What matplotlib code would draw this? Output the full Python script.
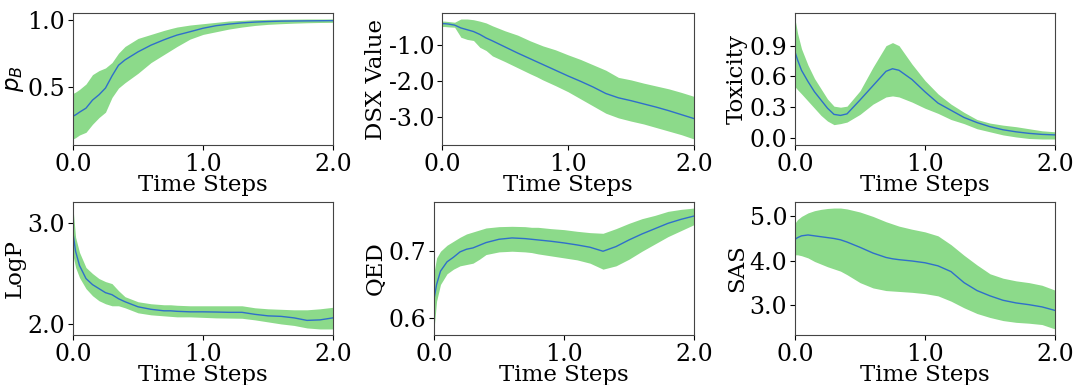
import numpy as np
import matplotlib
matplotlib.use("Agg")
import matplotlib.pyplot as plt

plt.rcParams['font.family'] = 'DejaVu Serif'
plt.rcParams['mathtext.fontset'] = 'dejavusans'
plt.rcParams['axes.unicode_minus'] = False

t = [0, 0.02, 0.05, 0.1, 0.15, 0.2, 0.25, 0.3, 0.35, 0.4, 0.5, 0.6, 0.7, 0.75,
     0.8, 0.9, 1.0, 1.1, 1.2, 1.3, 1.4, 1.5, 1.6, 1.7, 1.8, 1.9, 2.0]

# p_B
pb_mean = [0.28, 0.29, 0.31, 0.34, 0.40, 0.44, 0.49, 0.58, 0.66, 0.70, 0.76, 0.81, 0.85, 0.868,
           0.885, 0.91, 0.936, 0.955, 0.967, 0.976, 0.982, 0.986, 0.989, 0.99, 0.991, 0.992, 0.993]
pb_lo = [0.11, 0.12, 0.14, 0.16, 0.22, 0.27, 0.31, 0.42, 0.49, 0.53, 0.60, 0.68, 0.74, 0.77,
         0.80, 0.855, 0.89, 0.91, 0.93, 0.945, 0.957, 0.965, 0.97, 0.974, 0.977, 0.979, 0.98]
pb_hi = [0.45, 0.46, 0.48, 0.52, 0.59, 0.62, 0.64, 0.68, 0.75, 0.80, 0.86, 0.89, 0.92, 0.933,
         0.945, 0.96, 0.97, 0.98, 0.99, 0.995, 1.0, 1.002, 1.003, 1.004, 1.005, 1.005, 1.005]

# DSX
dsx_mean = [-0.40, -0.40, -0.41, -0.44, -0.52, -0.57, -0.62, -0.70, -0.80, -0.88, -1.05, -1.22, -1.38, -1.46,
            -1.54, -1.70, -1.86, -2.01, -2.17, -2.35, -2.47, -2.55, -2.64, -2.73, -2.83, -2.94, -3.05]
dsx_lo = [-0.48, -0.48, -0.49, -0.50, -0.78, -0.84, -0.87, -1.06, -1.15, -1.30, -1.46, -1.63, -1.80, -1.88,
          -1.97, -2.13, -2.30, -2.50, -2.70, -2.90, -3.03, -3.12, -3.20, -3.30, -3.40, -3.50, -3.62]
dsx_hi = [-0.33, -0.33, -0.34, -0.36, -0.27, -0.27, -0.29, -0.33, -0.38, -0.46, -0.60, -0.72, -0.88, -0.95,
          -1.02, -1.13, -1.27, -1.40, -1.55, -1.70, -1.90, -1.97, -2.06, -2.14, -2.22, -2.32, -2.43]

# Toxicity
tox_mean = [0.84, 0.76, 0.66, 0.55, 0.45, 0.37, 0.29, 0.23, 0.22, 0.235, 0.37, 0.51, 0.65, 0.675,
            0.66, 0.57, 0.45, 0.34, 0.27, 0.20, 0.15, 0.11, 0.08, 0.06, 0.045, 0.035, 0.03]
tox_lo = [0.50, 0.47, 0.43, 0.36, 0.29, 0.22, 0.165, 0.13, 0.14, 0.155, 0.23, 0.33, 0.40, 0.41,
          0.40, 0.35, 0.29, 0.24, 0.18, 0.14, 0.09, 0.06, 0.03, 0.01, -0.005, -0.01, -0.01]
tox_hi = [1.16, 1.02, 0.87, 0.71, 0.58, 0.48, 0.38, 0.31, 0.30, 0.31, 0.46, 0.69, 0.90, 0.93,
          0.90, 0.72, 0.56, 0.43, 0.33, 0.25, 0.18, 0.145, 0.125, 0.11, 0.09, 0.07, 0.06]

# LogP
logp_mean = [2.90, 2.72, 2.58, 2.45, 2.39, 2.35, 2.31, 2.29, 2.25, 2.22, 2.17, 2.145, 2.13, 2.13,
             2.125, 2.12, 2.12, 2.118, 2.115, 2.115, 2.095, 2.08, 2.075, 2.06, 2.035, 2.04, 2.06]
logp_lo = [2.68, 2.56, 2.46, 2.35, 2.28, 2.23, 2.20, 2.18, 2.18, 2.16, 2.11, 2.09, 2.08, 2.075,
           2.07, 2.07, 2.065, 2.06, 2.058, 2.056, 2.04, 2.02, 2.00, 1.985, 1.96, 1.95, 1.95]
logp_hi = [3.15, 2.86, 2.71, 2.56, 2.50, 2.45, 2.42, 2.40, 2.33, 2.27, 2.22, 2.20, 2.19, 2.19,
           2.185, 2.18, 2.18, 2.18, 2.18, 2.18, 2.16, 2.15, 2.145, 2.14, 2.14, 2.15, 2.165]

# QED
qed_mean = [0.628, 0.650, 0.670, 0.684, 0.691, 0.699, 0.703, 0.705, 0.709, 0.713, 0.718, 0.720, 0.719, 0.718,
            0.717, 0.715, 0.7125, 0.7095, 0.706, 0.700, 0.707, 0.717, 0.726, 0.734, 0.742, 0.748, 0.753]
qed_lo = [0.583, 0.625, 0.650, 0.666, 0.673, 0.678, 0.680, 0.682, 0.688, 0.695, 0.699, 0.700, 0.699, 0.698,
          0.696, 0.693, 0.690, 0.687, 0.682, 0.673, 0.678, 0.688, 0.700, 0.711, 0.722, 0.731, 0.740]
qed_hi = [0.668, 0.690, 0.700, 0.709, 0.715, 0.721, 0.726, 0.729, 0.732, 0.735, 0.737, 0.7375, 0.737, 0.736,
          0.736, 0.734, 0.7325, 0.730, 0.728, 0.727, 0.734, 0.742, 0.749, 0.754, 0.760, 0.763, 0.765]

# SAS
sas_mean = [4.48, 4.52, 4.56, 4.58, 4.56, 4.54, 4.52, 4.50, 4.47, 4.42, 4.30, 4.17, 4.07, 4.04,
            4.02, 3.99, 3.95, 3.88, 3.75, 3.50, 3.32, 3.20, 3.10, 3.04, 3.00, 2.95, 2.87]
sas_lo = [4.13, 4.13, 4.11, 4.06, 3.98, 3.92, 3.86, 3.81, 3.76, 3.68, 3.50, 3.38, 3.32, 3.31,
          3.30, 3.28, 3.25, 3.20, 3.08, 2.93, 2.80, 2.71, 2.64, 2.60, 2.58, 2.55, 2.45]
sas_hi = [4.85, 4.93, 5.00, 5.08, 5.13, 5.16, 5.18, 5.19, 5.19, 5.17, 5.10, 5.00, 4.88, 4.83,
          4.78, 4.71, 4.65, 4.56, 4.36, 4.12, 3.90, 3.70, 3.60, 3.54, 3.50, 3.44, 3.33]

panels = [
    (r'$p_B$', pb_mean, pb_lo, pb_hi, [0.5, 1.0]),
    ('DSX Value', dsx_mean, dsx_lo, dsx_hi, [-1.0, -2.0, -3.0]),
    ('Toxicity', tox_mean, tox_lo, tox_hi, [0.0, 0.3, 0.6, 0.9]),
    ('LogP', logp_mean, logp_lo, logp_hi, [2.0, 3.0]),
    ('QED', qed_mean, qed_lo, qed_hi, [0.6, 0.7]),
    ('SAS', sas_mean, sas_lo, sas_hi, [3.0, 4.0, 5.0]),
]

# axes rectangles in pixels: left, right, top, bottom
boxes = [(73, 333, 13, 145), (442, 694, 13, 145), (795, 1055, 13, 145),
         (73, 333, 202, 335), (434, 694, 202, 335), (795, 1055, 202, 335)]

W, H = 1075, 385
fig = plt.figure(figsize=(W / 100, H / 100), dpi=100)
for (lab, m, lo, hi, ticks), (l, r, tp, b) in zip(panels, boxes):
    ax = fig.add_axes([l / W, 1 - b / H, (r - l) / W, (b - tp) / H])
    ax.fill_between(t, lo, hi, color='#8cda8a', linewidth=0)
    ax.plot(t, m, color='#2f6fca', lw=1)
    ax.set_xlim(0, 2)
    ax.set_xticks([0, 1, 2])
    ax.set_xticklabels(['0.0', '1.0', '2.0'])
    ax.set_yticks(ticks)
    ax.set_yticklabels(['%.1f' % v for v in ticks])
    ax.tick_params(labelsize=17, pad=2)
    ax.set_xlabel('Time Steps', fontsize=16.5, labelpad=-1)
    ax.set_ylabel(lab, fontsize=16.5, labelpad=1)
    for s in ax.spines.values():
        s.set_color('#444444')

fig.savefig('out.png', dpi=100)
